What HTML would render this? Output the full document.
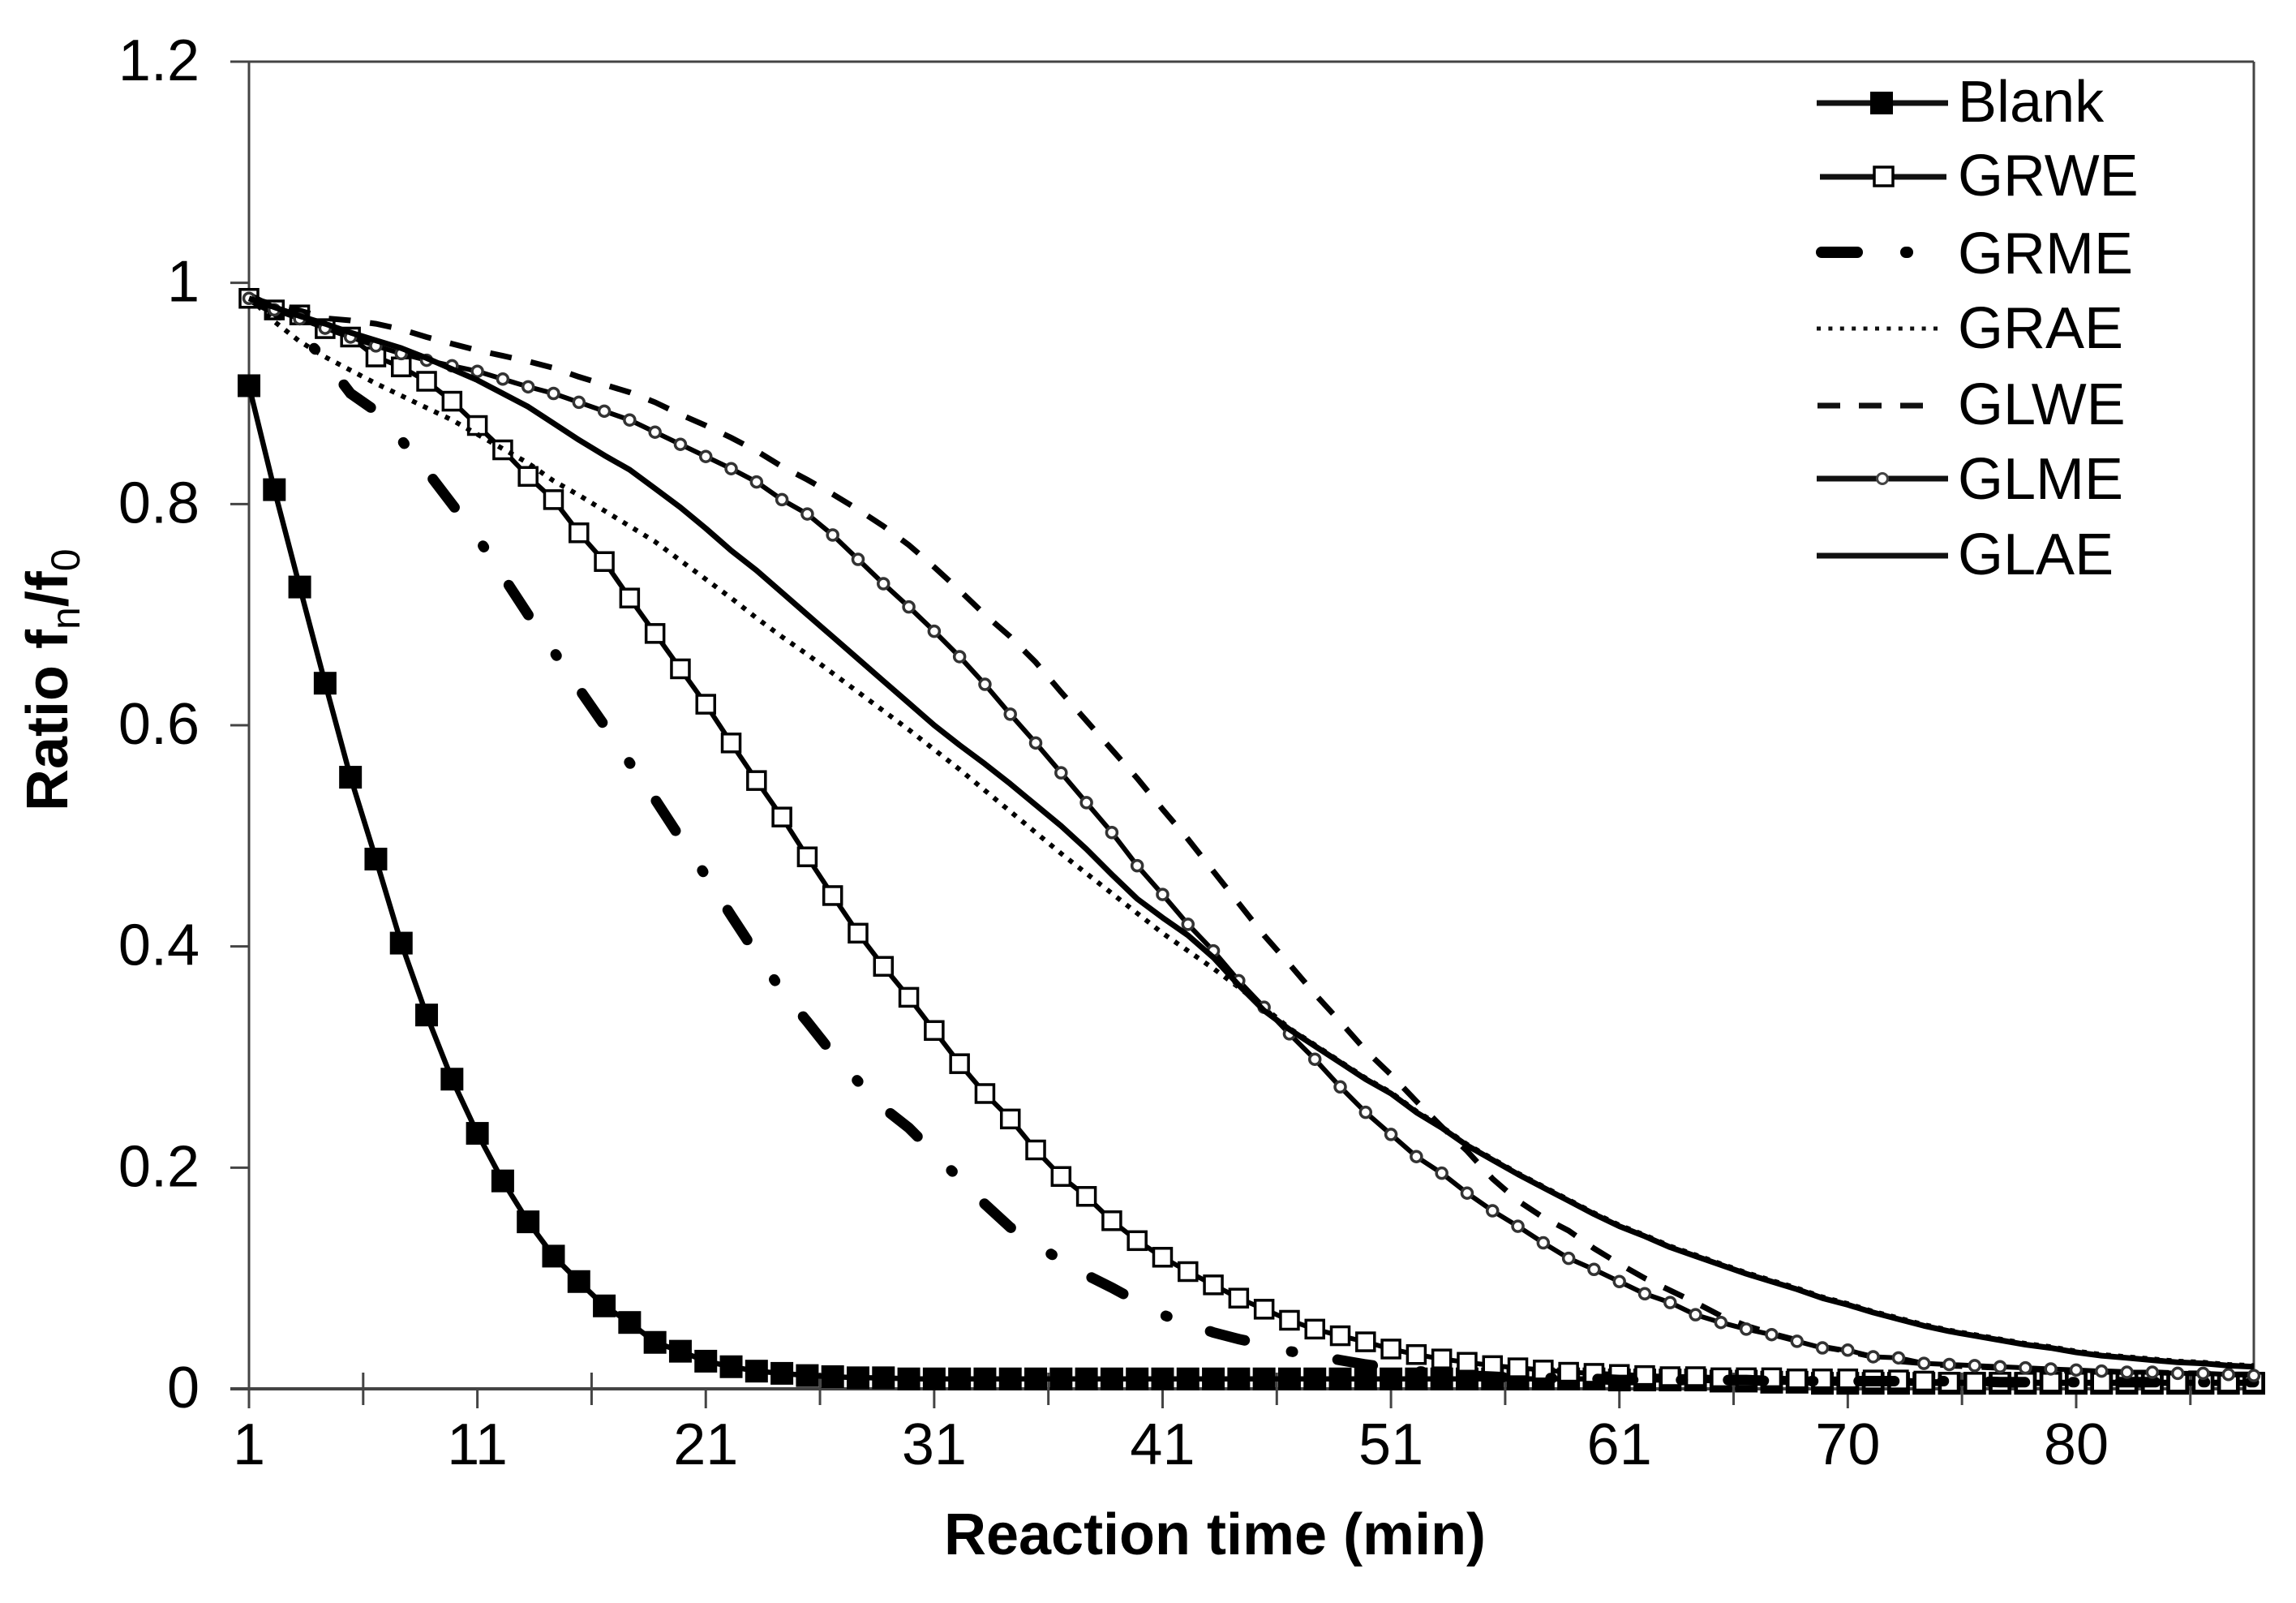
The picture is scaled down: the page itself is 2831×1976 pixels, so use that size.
<!DOCTYPE html>
<html lang="en">
<head>
<meta charset="utf-8">
<title>Ratio fn/f0 vs reaction time</title>
<style>
html,body{margin:0;padding:0;background:#fff;}
svg{display:block;}
text{font-family:"Liberation Sans",Arial,sans-serif;fill:#000;}
</style>
</head>
<body>
<svg id="chart" xmlns="http://www.w3.org/2000/svg" width="2831" height="1976" viewBox="0 0 2831 1976">
<rect width="2831" height="1976" fill="#fff"/>
<g id="axes"></g>
<g id="series"></g>
<text x="1498" y="1916" text-anchor="middle" font-size="72" font-weight="700">Reaction time (min)</text>
<text transform="translate(83,1000) rotate(-90)" font-size="72" font-weight="700">Ratio f<tspan dy="15" font-size="50" font-weight="400">n</tspan><tspan dy="-15">/f</tspan><tspan dy="15" font-size="50" font-weight="400">0</tspan></text>
<g>
  <g>
    <line x1="2240" y1="127" x2="2402" y2="127" stroke="#111" stroke-width="7"/>
    <rect x="2306" y="113" width="28" height="28" fill="#000"/>
    <text x="2414" y="150" font-size="72">Blank</text>
  </g>
  <g>
    <line x1="2244" y1="218" x2="2400" y2="218" stroke="#111" stroke-width="7"/>
    <rect x="2311" y="206" width="23" height="23" fill="#fff" stroke="#000" stroke-width="3.5"/>
    <text x="2414" y="241" font-size="72">GRWE</text>
  </g>
  <g>
    <line x1="2246" y1="311" x2="2355" y2="311" stroke="#000" stroke-width="14" stroke-linecap="round" stroke-dasharray="44 60 2 200"/>
    <text x="2414" y="337" font-size="72">GRME</text>
  </g>
  <g>
    <line x1="2240" y1="405" x2="2398" y2="405" stroke="#111" stroke-width="5" stroke-dasharray="5 9.4"/>
    <text x="2414" y="429" font-size="72">GRAE</text>
  </g>
  <g>
    <line x1="2241" y1="500" x2="2375" y2="500" stroke="#111" stroke-width="7" stroke-dasharray="28 23"/>
    <text x="2414" y="523" font-size="72">GLWE</text>
  </g>
  <g>
    <line x1="2240" y1="590" x2="2402" y2="590" stroke="#111" stroke-width="7"/>
    <circle cx="2321" cy="590" r="6.5" fill="#fff" stroke="#444" stroke-width="3"/>
    <text x="2414" y="615" font-size="72">GLME</text>
  </g>
  <g>
    <line x1="2240" y1="685" x2="2402" y2="685" stroke="#111" stroke-width="7"/>
    <text x="2414" y="708" font-size="72">GLAE</text>
  </g>
</g>
</svg>
<script>
// Tick labels and tick values (category index units for the x axis)
const yTickValues = [0, 0.2, 0.4, 0.6, 0.8, 1, 1.2];
const xTickLabels = ["1", "11", "21", "31", "41", "51", "61", "70", "80"];
const blank = [.907,.813,.725,.638,.553,.479,.403,.338,.28,.231,.188,.151,.12,.097,.075,.06,.042,.034,.025,.02,.016,.014,.012,.011,.010,.010,.009,.009,.009,.009,.009,.009,.009,.009,.009,.009,.009,.009,.009,.009,.009,.009,.009,.009,.009,.009,.009,.009,.009,.009,.009,.009,.009,.009,.008,.008,.008,.008,.007,.007,.006,.006,.005,.005,.005,.005,.005,.005,.005,.005,.005,.005,.005,.005,.005,.005,.005,.005,.005,.005];
const grwe = [.986,.9755,.971,.9586,.951,.933,.924,.911,.893,.871,.849,.825,.804,.774,.748,.715,.683,.651,.619,.584,.55,.517,.481,.446,.412,.382,.354,.324,.294,.267,.244,.216,.192,.174,.152,.134,.119,.106,.094,.082,.072,.062,.054,.048,.0425,.036,.031,.027,.024,.021,.019,.017,.015,.014,.013,.012,.011,.011,.010,.010,.010,.009,.009,.009,.008,.008,.007,.006,.006,.006,.006,.006,.006,.006,.006,.006,.006,.006,.006,.006];
const grme = [.987,.975,.955,.93,.90,.884,.858,.83,.80,.77,.735,.70,.667,.633,.60,.566,.533,.498,.464,.428,.393,.36,.332,.303,.278,.254,.236,.213,.19,.167,.146,.131,.116,.103,.0915,.079,.067,.059,.051,.045,.04,.034,.03,.026,.022,.019,.016,.014,.012,.011,.010,.010,.009,.009,.008,.008,.008,.008,.008,.008,.007,.007,.007,.007,.007,.007,.007,.007,.007,.006,.006,.006,.006,.006,.006,.006,.006,.006,.006,.006];
const grae = [.987,.965,.947,.933,.921,.909,.898,.887,.876,.863,.85,.837,.821,.808,.794,.78,.766,.749,.732,.715,.697,.68,.664,.647,.63,.613,.596,.578,.56,.541,.522,.503,.484,.466,.448,.43,.412,.396,.38,.363,.345,.326,.311,.296,.281,.268,.251,.237,.221,.208,.195,.183,.171,.159,.148,.139,.129,.121,.113,.105,.098,.091,.083,.077,.07,.064,.058,.053,.049,.045,.041,.038,.034,.031,.029,.027,.025,.024,.022,.021];
const glwe = [.987,.98,.975,.968,.966,.963,.958,.951,.945,.939,.934,.929,.923,.915,.908,.901,.892,.881,.871,.86,.848,.834,.822,.809,.795,.78,.763,.743,.722,.70,.68,.657,.63,.604,.578,.552,.524,.497,.468,.439,.41,.384,.357,.332,.306,.284,.26,.237,.215,.19,.17,.155,.143,.127,.113,.1,.089,.078,.066,.057,.05,.044,.038,.034,.029,.025,.023,.021,.02,.019,.018,.017,.016,.016,.015,.015,.014,.014,.013,.013];
const glme = [.986,.9756,.9675,.959,.951,.943,.936,.93,.925,.92,.913,.906,.90,.892,.884,.876,.865,.854,.843,.832,.82,.804,.791,.772,.75,.728,.707,.685,.662,.637,.61,.584,.557,.53,.503,.473,.447,.42,.396,.369,.345,.321,.298,.273,.25,.23,.21,.195,.177,.161,.147,.132,.118,.108,.097,.086,.078,.067,.06,.054,.049,.043,.037,.035,.029,.028,.023,.022,.021,.02,.019,.018,.017,.016,.015,.015,.014,.014,.013,.012];
const glae = [.986,.978,.97,.963,.955,.948,.941,.932,.922,.912,.90,.888,.873,.858,.844,.831,.814,.797,.778,.758,.74,.72,.70,.68,.66,.64,.62,.60,.582,.565,.547,.528,.509,.488,.465,.443,.426,.41,.39,.365,.342,.325,.31,.295,.28,.267,.25,.236,.22,.207,.194,.182,.17,.158,.147,.138,.128,.12,.112,.104,.097,.09,.082,.076,.069,.063,.057,.052,.048,.044,.04,.037,.033,.03,.028,.026,.024,.023,.021,.02];

const PLOT_LEFT = 307, PLOT_RIGHT = 2779, PLOT_TOP = 76, PLOT_BOTTOM = 1712;
const POINT_COUNT = blank.length;
function xScale(i) { return PLOT_LEFT + i * (PLOT_RIGHT - PLOT_LEFT) / (POINT_COUNT - 1); }
function yScale(v) { return PLOT_BOTTOM - (v / 1.2) * (PLOT_BOTTOM - PLOT_TOP); }

const NS = "http://www.w3.org/2000/svg";
function make(tag, attrs, parent) {
  const el = document.createElementNS(NS, tag);
  for (const k in attrs) el.setAttribute(k, attrs[k]);
  parent.appendChild(el);
  return el;
}
const axes = document.getElementById("axes");
const seriesGroup = document.getElementById("series");
const AXIS = "#444";

const frameTop = make("line", {x1: 284, y1: PLOT_TOP, x2: PLOT_RIGHT, y2: PLOT_TOP, stroke: AXIS, "stroke-width": 3}, axes);


const frameRight = make("line", {x1: PLOT_RIGHT, y1: PLOT_TOP, x2: PLOT_RIGHT, y2: PLOT_BOTTOM, stroke: AXIS, "stroke-width": 3}, axes);


const yAxisLine = make("line", {x1: PLOT_LEFT, y1: PLOT_TOP, x2: PLOT_LEFT, y2: PLOT_BOTTOM, stroke: AXIS, "stroke-width": 3}, axes);


const xAxisLine = make("line", {x1: 284, y1: PLOT_BOTTOM, x2: PLOT_RIGHT, y2: PLOT_BOTTOM, stroke: AXIS, "stroke-width": 4}, axes);



yTickValues.forEach(function (v) {
  const y = yScale(v);
  const tick = make("line", {x1: 284, y1: y, x2: PLOT_LEFT, y2: y, stroke: AXIS, "stroke-width": 3}, axes);
  
  
  const label = make("text", {x: 246, y: y + 23, "text-anchor": "end", "font-size": 72}, axes);
  label.textContent = String(v);
  
  
});

const CATEGORIES_PER_LABEL = 9;
xTickLabels.forEach(function (text, n) {
  const x = xScale(n * CATEGORIES_PER_LABEL);
  const tick = make("line", {x1: x, y1: PLOT_BOTTOM, x2: x, y2: PLOT_BOTTOM + 24, stroke: AXIS, "stroke-width": 3}, axes);
  
  
  const label = make("text", {x: x, y: 1805, "text-anchor": "middle", "font-size": 72}, axes);
  label.textContent = text;
  
  
  const xm = xScale((n + 0.5) * CATEGORIES_PER_LABEL);
  const minor = make("line", {x1: xm, y1: PLOT_BOTTOM - 20, x2: xm, y2: PLOT_BOTTOM + 20, stroke: AXIS, "stroke-width": 3}, axes);
  
  
});

function pathFor(values) {
  return values.map(function (v, i) { return (i ? "L" : "M") + xScale(i).toFixed(1) + " " + yScale(v).toFixed(1); }).join(" ");
}

// blank: thick line + filled squares
const blankLine = make("path", {d: pathFor(blank), fill: "none", stroke: "#000", "stroke-width": 6.5}, seriesGroup);


blank.forEach(function (v, i) {
  const m = make("rect", {x: xScale(i) - 14, y: yScale(v) - 14, width: 28, height: 28, fill: "#000"}, seriesGroup);
  
  
});

// GRWE: line + open squares
const grweLine = make("path", {d: pathFor(grwe), fill: "none", stroke: "#000", "stroke-width": 6}, seriesGroup);


grwe.forEach(function (v, i) {
  const m = make("rect", {x: xScale(i) - 11, y: yScale(v) - 11, width: 22, height: 22, fill: "#fff", stroke: "#000", "stroke-width": 3.5}, seriesGroup);
  
  
});

// GRME: heavy dash-dot
const grmeLine = make("path", {d: pathFor(grme), fill: "none", stroke: "#000", "stroke-width": 13, "stroke-linecap": "round", "stroke-dasharray": "44 59 2 56"}, seriesGroup);



// GRAE: dotted
const graeLine = make("path", {d: pathFor(grae), fill: "none", stroke: "#000", "stroke-width": 6, "stroke-dasharray": "6 9"}, seriesGroup);



// GLWE: dashed
const glweLine = make("path", {d: pathFor(glwe), fill: "none", stroke: "#000", "stroke-width": 7, "stroke-dasharray": "27 24"}, seriesGroup);



// GLME: line + small open circles
const glmeLine = make("path", {d: pathFor(glme), fill: "none", stroke: "#000", "stroke-width": 6}, seriesGroup);


glme.forEach(function (v, i) {
  const m = make("circle", {cx: xScale(i), cy: yScale(v), r: 6.5, fill: "#fff", stroke: "#333", "stroke-width": 3.5}, seriesGroup);
  
  
});

// GLAE: solid
const glaeLine = make("path", {d: pathFor(glae), fill: "none", stroke: "#000", "stroke-width": 7, "stroke-linejoin": "round"}, seriesGroup);


</script>
</body>
</html>
